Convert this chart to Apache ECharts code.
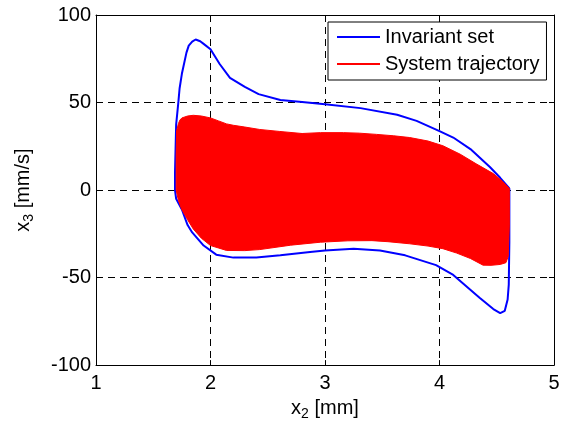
<!DOCTYPE html>
<html>
<head>
<meta charset="utf-8">
<script src="https://cdn.jsdelivr.net/npm/echarts@6/dist/echarts.min.js"></script>
<style>
  html, body { margin: 0; padding: 0; background: #fff; }
  #chart { width: 570px; height: 426px; }
</style>
</head>
<body>
<div id="chart"></div>
<script>
// Phase-plane data: x2 [mm] vs x3 [mm/s]
const xTicks = [1, 2, 3, 4, 5];
const yTicks = [-100, -50, 0, 50, 100];

// Boundary of the invariant set (closed loop)
const invariantX = [4.61, 4.53, 4.44, 4.27, 4.12, 4.00, 3.80, 3.63, 3.31, 3.00, 2.80, 2.61, 2.42, 2.30, 2.17, 2.08, 2.00, 1.94, 1.91, 1.87, 1.84, 1.81, 1.79, 1.75, 1.73, 1.72, 1.70, 1.69, 1.69, 1.70, 1.75, 1.80, 1.84, 1.94, 2.05, 2.20, 2.40, 2.61, 2.87, 3.00, 3.25, 3.48, 3.70, 3.97, 4.12, 4.35, 4.47, 4.53, 4.57, 4.595, 4.605, 4.61, 4.61];
const invariantY = [1, 7, 13.2, 23.4, 30, 33.7, 39.5, 43, 46.8, 49, 50.3, 51.4, 54.8, 58.9, 64.1, 72, 80.4, 83.5, 85, 86, 84.8, 82.5, 78.5, 66.4, 58, 50.7, 37.4, 10, 0, -5, -11.1, -20, -24.2, -31.7, -36.9, -38.6, -38.5, -37.3, -35.4, -34.5, -33.5, -34.5, -37.3, -42.9, -48.5, -61.5, -68, -70.3, -69, -62.5, -54, -30, 1];

// Envelope of the system trajectory (region swept by the response)
const trajectoryX = [1.70, 1.704, 1.72, 1.733, 1.75, 1.80, 1.85, 1.92, 2.00, 2.07, 2.14, 2.20, 2.30, 2.43, 2.60, 2.80, 2.96, 3.16, 3.30, 3.45, 3.60, 3.74, 3.90, 4.03, 4.18, 4.32, 4.47, 4.55, 4.61, 4.61, 4.60, 4.58, 4.53, 4.45, 4.38, 4.27, 4.15, 4.03, 3.90, 3.74, 3.55, 3.41, 3.20, 2.96, 2.70, 2.43, 2.30, 2.14, 2.00, 1.92, 1.85, 1.80, 1.748, 1.72, 1.70];
const trajectoryY = [20, 33.8, 38, 40, 41.2, 42.3, 42.7, 42.3, 41.2, 39.5, 37.8, 37, 36, 34.6, 33.5, 32.3, 32.8, 32.8, 32.5, 31.8, 31, 30, 28, 25.3, 20.5, 15, 9.4, 5, 1, -20, -38, -41.5, -42.5, -43, -42.9, -39.1, -36, -33.5, -32, -30.7, -29.5, -28.9, -29, -29.8, -31.5, -34, -34.6, -34.5, -31.7, -27.5, -22.3, -17, -11, -6, 0];

const seriesNames = ['Invariant set', 'System trajectory'];

const invariantData = invariantX.map((x, i) => [x, invariantY[i]]);
const trajectoryData = trajectoryX.map((x, i) => [x, trajectoryY[i]]);

const FONT = "'Liberation Sans', Arial, Helvetica, sans-serif";
const textBase = { fontFamily: FONT, fontSize: 20, color: '#000' };

const chart = echarts.init(document.getElementById('chart'), null, { renderer: 'canvas' });

const frameAxis = {
  type: 'value',
  axisLine: { show: true, onZero: false, lineStyle: { color: '#000', width: 1 } },
  axisTick: { show: true, inside: true, length: 5, lineStyle: { color: '#000' } },
  axisLabel: { show: false },
  splitLine: { show: false }
};

const subRich = {
  m: Object.assign({}, textBase),
  s: Object.assign({}, textBase, { fontSize: 14, padding: [12, 0, 0, 0] })
};

chart.setOption({
  animation: false,
  backgroundColor: '#fff',
  grid: { left: 96, right: 16, top: 15, bottom: 54, containLabel: false },
  legend: {
    orient: 'vertical',
    left: 328,
    top: 22,
    padding: [5, 7, 6, 9],
    itemGap: 7,
    itemWidth: 43,
    itemHeight: 2,
    itemTextGap: 5,
    backgroundColor: '#fff',
    borderColor: '#000',
    borderWidth: 1,
    borderRadius: 0,
    itemStyle: { borderWidth: 0 },
    textStyle: Object.assign({ lineHeight: 20 }, textBase),
    data: [
      { name: seriesNames[0], icon: 'rect', itemStyle: { color: '#0000ff', borderWidth: 0 } },
      { name: seriesNames[1], icon: 'rect', itemStyle: { color: '#ff0000', borderWidth: 0 } }
    ]
  },
  xAxis: [
    {
      type: 'value',
      min: xTicks[0],
      max: xTicks[xTicks.length - 1],
      interval: 1,
      position: 'bottom',
      name: '{m|x}{s|2}{m| [mm]}',
      nameLocation: 'middle',
      nameGap: 27,
      nameTextStyle: { rich: subRich },
      axisLine: { show: true, onZero: false, lineStyle: { color: '#000', width: 1 } },
      axisTick: { show: true, inside: true, length: 5, lineStyle: { color: '#000' } },
      axisLabel: Object.assign({ margin: 8 }, textBase),
      splitLine: { show: true, lineStyle: { color: '#000', width: 1, type: [7, 5] } }
    },
    Object.assign({}, frameAxis, { min: 1, max: 5, interval: 1, position: 'top' })
  ],
  yAxis: [
    {
      type: 'value',
      min: yTicks[0],
      max: yTicks[yTicks.length - 1],
      interval: 50,
      position: 'left',
      name: '{m|x}{s|3}{m| [mm/s]}',
      nameLocation: 'middle',
      nameGap: 60,
      nameTextStyle: { rich: subRich },
      axisLine: { show: true, onZero: false, lineStyle: { color: '#000', width: 1 } },
      axisTick: { show: true, inside: true, length: 5, lineStyle: { color: '#000' } },
      axisLabel: Object.assign({ margin: 5 }, textBase),
      splitLine: { show: true, lineStyle: { color: '#000', width: 1, type: [7, 5] } }
    },
    Object.assign({}, frameAxis, { min: -100, max: 100, interval: 50, position: 'right' })
  ],
  series: [
    {
      name: seriesNames[0],
      type: 'line',
      data: invariantData,
      showSymbol: false,
      smooth: false,
      color: '#0000ff',
      lineStyle: { color: '#0000ff', width: 2 },
      z: 2
    },
    {
      name: seriesNames[1],
      type: 'custom',
      color: '#ff0000',
      itemStyle: { color: '#ff0000' },
      data: trajectoryData,
      encode: { x: 0, y: 1 },
      renderItem: function (params, api) {
        if (params.dataIndex !== 0) return null;
        const pts = trajectoryData.map(p => api.coord(p));
        return {
          type: 'polygon',
          shape: { points: pts },
          style: { fill: '#ff0000', stroke: '#ff0000', lineWidth: 1 }
        };
      },
      z: 3
    }
  ]
});
</script>
</body>
</html>
